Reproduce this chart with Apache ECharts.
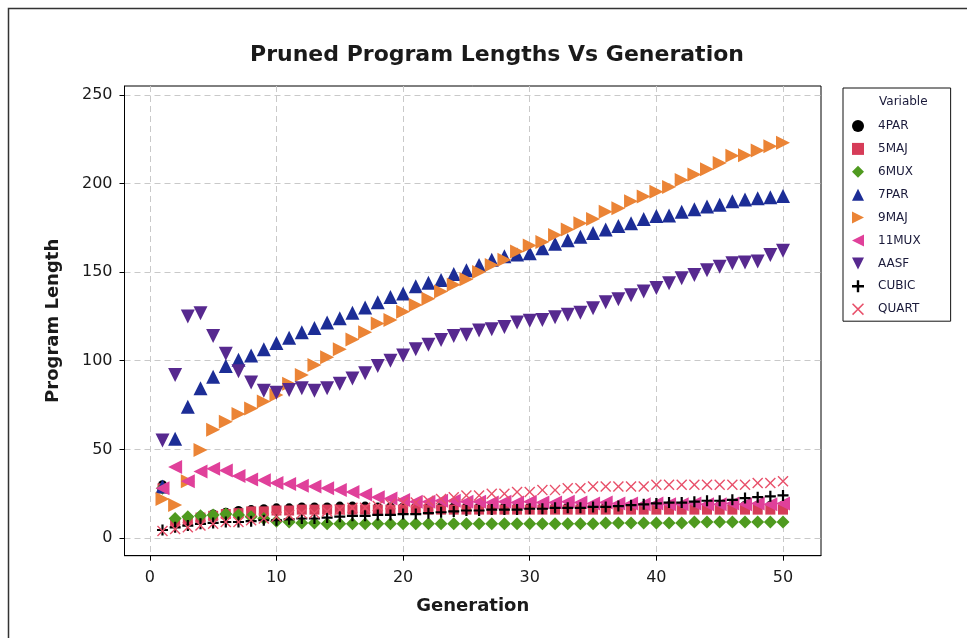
<!DOCTYPE html>
<html>
<head>
<meta charset="utf-8">
<script src="https://cdn.jsdelivr.net/npm/echarts@6/dist/echarts.min.js"></script>
<style>
html,body{margin:0;padding:0;background:#fff;}
#chart{width:967px;height:638px;}
</style>
</head>
<body>
<div id="chart"></div>
<script>
// Generations 1..50
const generations = [1,2,3,4,5,6,7,8,9,10,11,12,13,14,15,16,17,18,19,20,21,22,23,24,25,26,27,28,29,30,31,32,33,34,35,36,37,38,39,40,41,42,43,44,45,46,47,48,49,50];

// Mean pruned program length per generation, one list per problem
const par4  = [30,10,11,12.5,13.5,14.5,15.5,16,16.5,17,17,17.5,17.5,17.5,18,18,18,17.5,17.5,17.5,17.5,17.5,17.5,17.5,17.5,17.5,17.5,17.5,17.5,17.5,17.5,17.5,17.5,17.5,17.5,18,18,18,18,18,18,18,18,18,18.5,18.5,18.5,18.5,18.5,18.5];
const maj5  = [28,9,10,11.5,12.5,13.5,14,15,15,15.5,15.5,16,16,16,16,16,16,16,16,16,16,16,16,16,16,16,16,16,16,16,16,16,16,16,16,16,16,16,16,16,16,16,16,16,16,16,16,16,16,16];
const mux6  = [28,11,12,12.5,13,13.5,13,12,11,9.5,9,8.5,8.5,8,8,8,8,8,8,8,8,8,8,8,8,8,8,8,8,8,8,8,8,8,8,8.5,8.5,8.5,8.5,8.5,8.5,8.5,9,9,9,9,9,9,9,9];
const par7  = [29,56,74,84.5,91,97,100.5,103,106.5,110,113,116,118.5,121.5,124,127,130,133,136,138,142,144,145.6,149,151,154,157,159,160,160.7,163.5,166,168,170,172,174,176,177.6,180,181.7,182,184,185.5,187,188,190,191,191.6,192.3,193];
const maj9  = [22,18.6,32,49.7,61,65.6,70,73,77,80.7,87,92,97.6,102,106.5,112,116,121,123,127.7,131.5,135,139,142.8,146,150,154,157,161.6,165,167,171,174,177.6,180,184,186,190,192.6,195.4,198,202,205,208,211.5,215.6,216,218.6,221,223];
const mux11 = [28,40,32,37.5,39,38,35,33,32.5,31,30.5,29.5,29,28,27,26,24.5,23,22.3,21.4,20.5,20.5,21,21,20.5,20.5,20,20.5,20,20.5,20,20,20.5,20,19.5,20,19.5,19.5,19,19.5,19,19,19.5,19,19,19.5,19,19.5,19,19.5];
const aasf  = [55,92,125,126.8,114,104,94,87.7,83,82,83.5,84.5,83,84.5,87,90,93,97,100,103,106.5,109,111.7,114,114.6,117,117.8,119,121.5,122.5,123,124.5,126,127,129.6,133,134.7,137,139,141,143.7,146.5,148.4,151,153,155,155.4,156,159.7,162];
const cubic = [4.5,6,7,8,8.5,9,9,9.5,10,10,10.5,11,11,11.5,12,12.5,12.5,13,13,13.5,13.5,14,14.5,15,15.5,15.5,16,16,16,16.5,16.5,17,17,17,17.5,17.5,18,18.5,19,19.5,20,20,20.5,21,21,21.5,22.5,23,23.5,24];
const quart = [4,5,6,7,8,9,9,10,11,12,13,14,14,15,16,17,17,18,19,20,20,21,22,23,24,24,25,25,26,26,27,27,28,28,29,29,29,29,29,30,30,30,30,30,30,30,30,31,31,32];

const xTicks = [0,10,20,30,40,50];
const yTicks = [0,50,100,150,200,250];

const FONT = 'DejaVu Sans';

const SYM = {
  triRight: 'path://M0,0L10,5L0,10Z',
  triLeft: 'path://M10,0L0,5L10,10Z',
  triDown: 'path://M0,0L10,0L5,10Z',
  plus: 'path://M4,0H6V4H10V6H6V10H4V6H0V4H4Z',
  cross: 'path://M0,0.9L0.9,0L5,4.1L9.1,0L10,0.9L5.9,5L10,9.1L9.1,10L5,5.9L0.9,10L0,9.1L4.1,5Z'
};

const seriesDefs = [
  {name:'4PAR',  data:par4,  symbol:'circle',      size:9,  legendSize:10, color:'#000000'},
  {name:'5MAJ',  data:maj5,  symbol:'rect',        size:10, legendSize:10, color:'#d63c58'},
  {name:'6MUX',  data:mux6,  symbol:'diamond',     size:13, legendSize:12, color:'#4f9a1f'},
  {name:'7PAR',  data:par7,  symbol:'triangle',    size:14, legendSize:12, color:'#1c2d96'},
  {name:'9MAJ',  data:maj9,  symbol:SYM.triRight,  size:14, legendSize:12, color:'#eb8436'},
  {name:'11MUX', data:mux11, symbol:SYM.triLeft,   size:14, legendSize:12, color:'#e0409a'},
  {name:'AASF',  data:aasf,  symbol:SYM.triDown,   size:14, legendSize:12, color:'#57298f'},
  {name:'CUBIC', data:cubic, symbol:SYM.plus,      size:11, legendSize:11, color:'#000000'},
  {name:'QUART', data:quart, symbol:SYM.cross,     size:11, legendSize:12, color:'#e8506a'}
];

const chart = echarts.init(document.getElementById('chart'), null, {renderer:'canvas'});

const gridLine = {show:true, lineStyle:{color:'#c9c9c9', type:[6,4], width:1}};

chart.setOption({
  backgroundColor:'#ffffff',
  animation:false,
  title:{
    text:'Pruned Program Lengths Vs Generation',
    left:492, top:39, textAlign:'center',
    textStyle:{fontFamily:FONT, fontWeight:'bold', fontSize:22, color:'#1a1a1a'}
  },
  graphic:[
    {type:'rect', shape:{x:8.5, y:8.5, width:980, height:660}, style:{fill:'none', stroke:'#333', lineWidth:1.5}, silent:true},
    {type:'text', left:879, top:96, style:{text:'Variable', fontFamily:FONT, fontSize:12, fill:'#1a1a3a'}, z:100}
  ],
  legend:{
    orient:'vertical',
    left:843, top:88,
    width:115,
    padding:[32,30,6,9],
    itemGap:10.9,
    itemWidth:12, itemHeight:12,
    borderColor:'#111', borderWidth:1,
    textStyle:{fontFamily:FONT, fontSize:12, color:'#1a1a3a', padding:[0,0,0,9]},
    data:seriesDefs.map(s=>({name:s.name, itemStyle:{color:s.color}}))
  },
  grid:{left:124.5, right:146, top:86, bottom:82.3, show:true, borderColor:'#000', borderWidth:1, containLabel:false},
  xAxis:{
    type:'value', min:-2, max:53,
    name:'Generation', nameLocation:'middle', nameGap:42,
    nameTextStyle:{fontFamily:FONT, fontWeight:'bold', fontSize:18, color:'#1a1a1a'},
    axisLine:{show:true, onZero:false, lineStyle:{color:'#000', width:1}},
    axisTick:{show:true, length:5, inside:false, customValues:xTicks, lineStyle:{color:'#000'}},
    axisLabel:{customValues:xTicks, fontFamily:FONT, fontSize:16, color:'#1a1a1a', margin:14},
    splitLine:gridLine
  },
  yAxis:{
    type:'value', min:-10, max:255,
    name:'Program Length', nameLocation:'middle', nameGap:62, nameRotate:90,
    nameTextStyle:{fontFamily:FONT, fontWeight:'bold', fontSize:18, color:'#1a1a1a'},
    axisLine:{show:true, onZero:false, lineStyle:{color:'#000', width:1}},
    axisTick:{show:true, length:5, inside:false, customValues:yTicks, lineStyle:{color:'#000'}},
    axisLabel:{customValues:yTicks, fontFamily:FONT, fontSize:16, color:'#1a1a1a', margin:12},
    splitLine:gridLine
  },
  series:seriesDefs.map(s=>({
    name:s.name,
    type:'scatter',
    symbol:s.symbol,
    symbolSize:s.size,
    symbolKeepAspect:true,
    itemStyle:{color:s.color, opacity:1},
    emphasis:{disabled:true},
    data:generations.map((g,i)=>[g, s.data[i]])
  }))
});
</script>
</body>
</html>
